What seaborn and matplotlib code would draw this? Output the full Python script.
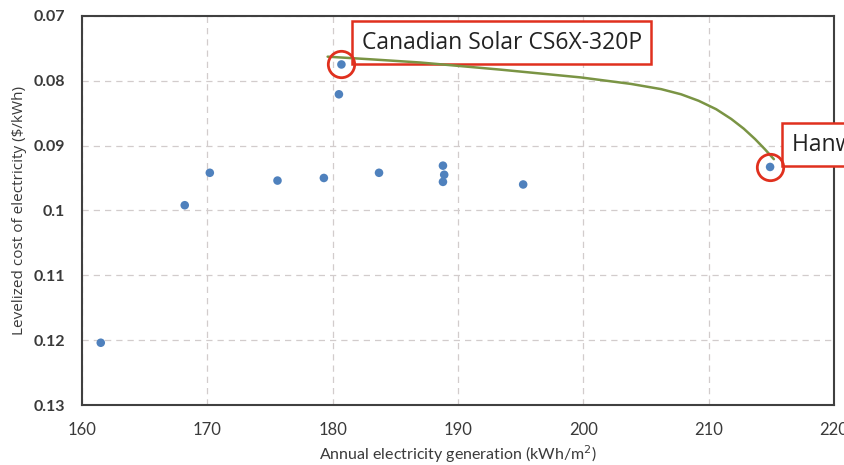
import matplotlib
matplotlib.use("Agg")
import matplotlib.pyplot as plt
import pandas as pd
import seaborn as sns

# panel modules: annual generation vs levelized cost
gen_kwh = [161.5, 168.2, 170.2, 175.6, 179.3, 180.5, 180.7, 183.7,
           188.8, 188.9, 188.8, 195.2, 214.9]
lcoe = [0.1204, 0.0992, 0.0942, 0.0954, 0.0950, 0.0821, 0.0775, 0.0942,
        0.0931, 0.0945, 0.0956, 0.0960, 0.0933]

# hand-drawn trade-off curve between the two highlighted modules
curve_x = [179.6, 183.0, 187.0, 193.4, 199.8, 203.8, 206.2, 207.8, 209.2,
           210.6, 211.8, 212.8, 213.7, 214.5, 215.2]
curve_y = [0.0763, 0.0767, 0.0772, 0.0783, 0.0795, 0.0805, 0.0813, 0.0821, 0.0831,
           0.0844, 0.0859, 0.0874, 0.0890, 0.0906, 0.0921]

# highlighted modules
hl_names = ["Canadian Solar CS6X-320P", "Hanwha Q CELLS"]
hl_x = [180.7, 214.9]
hl_y = [0.0775, 0.0933]

x_ticks = [160, 170, 180, 190, 200, 210, 220]
y_ticks = [0.07, 0.08, 0.09, 0.10, 0.11, 0.12, 0.13]
y_labels = ["0.07", "0.08", "0.09", "0.1", "0.11", "0.12", "0.13"]

color_point = "#4f81bd"
color_curve = "#7a9444"
color_red = "#e0301e"
color_axis = "#404040"
color_text = "#3a3a3a"

sns.set_theme(style="white")
plt.rcParams["font.family"] = ["Lato", "DejaVu Sans"]

df = pd.DataFrame({"gen": gen_kwh, "lcoe": lcoe})
df_curve = pd.DataFrame({"gen": curve_x, "lcoe": curve_y})

fig = plt.figure(figsize=(8.45, 4.65), dpi=100)
ax = fig.add_axes([0.097, 0.129, 0.890, 0.837])

# curve sits above the label box, as in the original sketch
sns.lineplot(data=df_curve, x="gen", y="lcoe", color=color_curve, linewidth=1.8,
             sort=False, ax=ax, zorder=7)
sns.scatterplot(data=df, x="gen", y="lcoe", color=color_point, s=38,
                edgecolor="none", ax=ax, zorder=4)

# red rings around the highlighted points
ax.plot(hl_x, hl_y, linestyle="none", marker="o", markersize=19,
        markerfacecolor="none", markeredgecolor=color_red, markeredgewidth=2, zorder=8)

ax.set_xlim(160, 220)
ax.set_ylim(0.13, 0.07)
ax.set_xticks(x_ticks)
ax.set_yticks(y_ticks)
ax.set_yticklabels(y_labels)
ax.tick_params(axis="x", labelsize=12, colors=color_text, length=0, pad=12)
ax.tick_params(axis="y", labelsize=11.5, colors=color_text, length=0, pad=12)
for lbl in ax.get_yticklabels():
    lbl.set_fontweight("bold")

ax.grid(True, linestyle=(0, (5, 4)), color="#d2cccc", linewidth=0.9)
for side in ax.spines.values():
    side.set_color(color_axis)
    side.set_linewidth(1.5)

ax.set_xlabel("Annual electricity generation (kWh/m$^2$)", fontsize=11.5,
              color=color_text, labelpad=4)
ax.set_ylabel("Levelized cost of electricity ($/kWh)", fontsize=11,
              color=color_text, labelpad=5, family=["Open Sans", "DejaVu Sans"])

box = dict(boxstyle="square,pad=0.42", facecolor="white", edgecolor=color_red, linewidth=1.8)
ax.annotate(hl_names[0], xy=(0.372, 0.962), xycoords="axes fraction", ha="left", va="top",
            fontsize=16.5, color="#222222", bbox=box, family=["Open Sans", "DejaVu Sans"],
            zorder=6)
ax.annotate(hl_names[1], xy=(0.944, 0.700), xycoords="axes fraction",
            ha="left", va="top", fontsize=16.5, color="#222222", bbox=box,
            family=["Open Sans", "DejaVu Sans"], zorder=6, annotation_clip=False)

fig.savefig("out.png", dpi=100)
